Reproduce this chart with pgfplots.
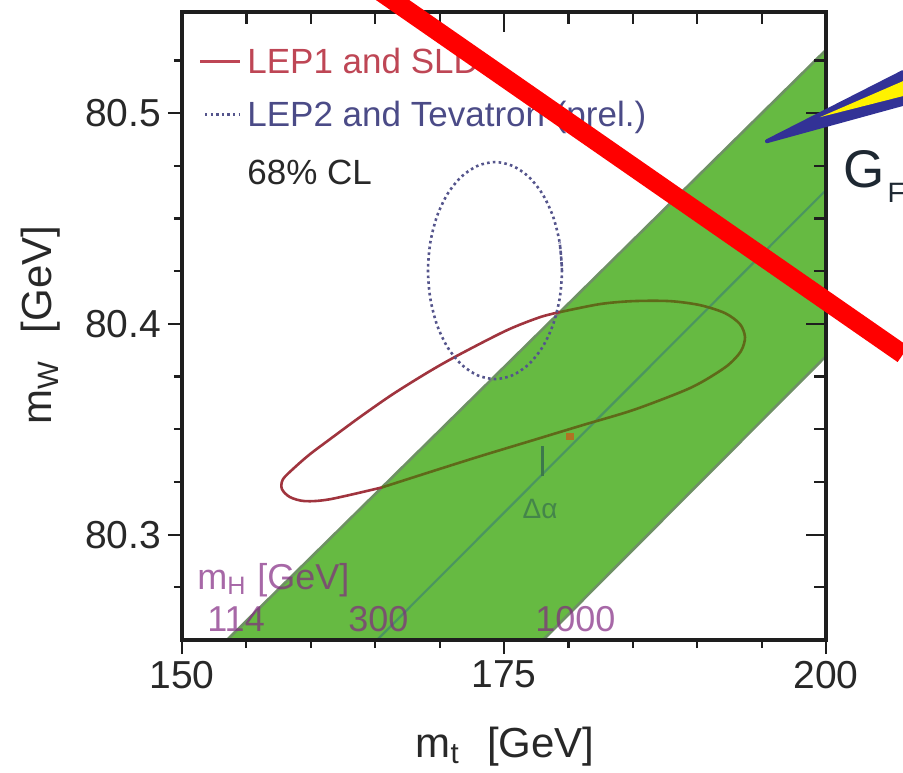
\documentclass[border=0pt]{standalone}
\usepackage{fontspec}
\setmainfont{Liberation Sans}
\usepackage{pgfplots}
\pgfplotsset{compat=1.18}
\definecolor{bandgreen}{RGB}{102,186,66}
\definecolor{bandedge}{RGB}{110,145,100}
\definecolor{mhline}{RGB}{75,150,95}
\definecolor{mhdark}{RGB}{60,120,76}
\definecolor{lepone}{RGB}{160,52,62}
\definecolor{leponetext}{RGB}{190,70,85}
\definecolor{oliveline}{RGB}{95,105,25}
\definecolor{leptwo}{RGB}{85,85,140}
\definecolor{leptwotext}{RGB}{75,75,135}
\definecolor{mhlab}{RGB}{130,40,130}
\definecolor{arrowblue}{RGB}{50,50,150}
\definecolor{gftext}{RGB}{30,40,50}
\definecolor{axisblack}{RGB}{30,30,30}
\definecolor{smpoint}{RGB}{175,115,35}
\definecolor{ticktext}{RGB}{40,40,40}
\begin{document}
\begin{tikzpicture}
\useasboundingbox (-91pt,-66pt) rectangle (360.5pt,320pt);
\begin{axis}[
  at={(0pt,0pt)}, anchor=south west,
  scale only axis, width=322pt, height=314pt,
  xmin=150, xmax=200, ymin=80.25, ymax=80.548,
  clip=false,
  axis line style={line width=1.6pt, axisblack},
  tick pos=left, tick align=outside,
  xtick={150,175,200}, xticklabels={150,175,200},
  ytick={80.3,80.4,80.5}, yticklabels={80.3,80.4,80.5},
  minor xtick={155,160,165,170,180,185,190,195},
  minor ytick={80.275,80.325,80.35,80.375,80.425,80.45,80.475,80.525},
  major tick length=7pt, minor tick length=4pt,
  tick style={line width=1.1pt, axisblack},
  tick label style={font=\fontsize{19.5}{22}\selectfont, text=ticktext},
  xlabel={m\textsubscript{t}\hspace{0.65em}[GeV]},
  ylabel={m\textsubscript{W}\hspace{0.65em}[GeV]},
  every axis x label/.style={at={(axis description cs:0.5016,-0.1863)}, anchor=base, font=\fontsize{21}{24}\selectfont, text=ticktext},
  every axis y label/.style={at={(axis description cs:-0.2019,0.5016)}, rotate=90, anchor=base, font=\fontsize{21}{24}\selectfont, text=ticktext},
]
% SM band (m_H = 114 ... 1000 GeV)
\addplot[draw=none, fill=bandgreen] coordinates {(153.49,80.25) (200,80.530) (200,80.3847) (178.03,80.25) (153.49,80.25)};
\addplot[bandedge, line width=1.3pt] coordinates {(153.49,80.25) (200,80.530)};
\addplot[bandedge, line width=1.3pt] coordinates {(178.03,80.25) (200,80.3847)};
\addplot[mhline, line width=1.1pt] coordinates {(165.14,80.25) (200,80.4635)};
% m_H labels
\node[anchor=base west, inner sep=0, text=mhlab, text opacity=0.7, font=\fontsize{18}{20}\selectfont] at (axis cs:151.16,80.2741) {m\textsubscript{H}\hspace{0.3em}[GeV]};
\node[anchor=base west, inner sep=0, text=mhlab, text opacity=0.7, font=\fontsize{18}{20}\selectfont] at (axis cs:151.94,80.2542) {114};
\node[anchor=base west, inner sep=0, text=mhlab, text opacity=0.7, font=\fontsize{18}{20}\selectfont] at (axis cs:162.89,80.2542) {300};
\node[anchor=base west, inner sep=0, text=mhlab, text opacity=0.7, font=\fontsize{18}{20}\selectfont] at (axis cs:177.41,80.2542) {1000};
% LEP1 and SLD contour (outside the band)
\addplot[lepone, line width=1.3pt, smooth] coordinates {
(165.52,80.3224) (161.49,80.3168) (159.55,80.3159) (158.39,80.3178) (157.76,80.3216)
(157.84,80.3263) (158.77,80.3320) (159.94,80.3382) (161.49,80.3453) (163.82,80.3558)
(166.38,80.3667) (169.25,80.3776) (171.58,80.3856) (175.23,80.3970) (177.80,80.4032)
(179.35,80.4056)};
% LEP1 and SLD contour (inside the band)
\addplot[oliveline, line width=1.3pt, smooth] coordinates {
(179.35,80.4056) (182.45,80.4094) (185.02,80.4108) (187.89,80.4108) (190.22,80.4089)
(192.16,80.4051) (193.32,80.3999) (193.71,80.3937) (193.40,80.3871) (192.39,80.3804)
(190.61,80.3733) (188.90,80.3681) (185.02,80.3591) (181.13,80.3520) (177.25,80.3448)
(173.14,80.3372) (169.25,80.3297) (165.52,80.3224)};
% LEP2 and Tevatron contour
\addplot[leptwo, line width=1.3pt, dash pattern=on 1.3pt off 1.6pt, smooth] coordinates {
(179.50,80.4253) (179.32,80.4386) (178.80,80.4511) (177.98,80.4617) (176.90,80.4699)
(175.65,80.4750) (174.30,80.4768) (172.95,80.4750) (171.70,80.4699) (170.62,80.4617)
(169.80,80.4511) (169.28,80.4386) (169.10,80.4253) (169.28,80.4120) (169.80,80.3995)
(170.62,80.3889) (171.70,80.3807) (172.95,80.3756) (174.30,80.3738) (175.65,80.3756)
(176.90,80.3807) (177.98,80.3889) (178.80,80.3995) (179.32,80.4120) (179.50,80.4253)
(179.32,80.4386)};
% Delta alpha
\addplot[mhdark, line width=1.2pt] coordinates {(178.0,80.342) (178.0,80.328)};
\node[text=mhdark, text opacity=0.8, font=\fontsize{14}{16}\selectfont] at (axis cs:177.8,80.312) {Δα};
\addplot[only marks, mark=square*, mark size=1.6pt, color=smpoint] coordinates {(180.12,80.3467)};
% legend
\addplot[leponetext, line width=1.5pt] coordinates {(151.40,80.5247) (154.50,80.5247)};
\node[anchor=base west, inner sep=0, text=leponetext, font=\fontsize{17.5}{20}\selectfont] at (axis cs:155.05,80.5187) {LEP1 and SLD};
\addplot[leptwo, line width=1.3pt, dash pattern=on 1.2pt off 1.6pt] coordinates {(151.79,80.4995) (154.50,80.4995)};
\node[anchor=base west, inner sep=0, text=leptwotext, font=\fontsize{17.5}{20}\selectfont] at (axis cs:155.05,80.4936) {LEP2 and Tevatron (prel.)};
\node[anchor=base west, inner sep=0, text=ticktext, font=\fontsize{17.5}{20}\selectfont] at (axis cs:155.05,80.4661) {68\% CL};
\end{axis}
\begin{axis}[
  at={(0pt,0pt)}, anchor=south west,
  scale only axis, width=322pt, height=314pt,
  xmin=150, xmax=200, ymin=80.25, ymax=80.548,
  clip=false,
  axis line style={line width=1.6pt, axisblack},
  tick pos=right, tick align=inside,
  xtick={150,175,200}, xticklabels={},
  ytick={80.3,80.4,80.5}, yticklabels={},
  minor xtick={155,160,165,170,180,185,190,195},
  minor ytick={80.275,80.325,80.35,80.375,80.425,80.45,80.475,80.525},
  major tick length=10pt, minor tick length=6pt,
  tick style={line width=1.1pt, axisblack},
]
% annotations drawn over the chart
\addplot[red, line width=9.5pt] coordinates {(165.0,80.5594) (205.98,80.3856)};
\addplot[draw=arrowblue, fill=arrowblue, line width=2pt, line join=round, line cap=round] coordinates {(195.42,80.4867) (205.98,80.5195) (205.98,80.5044) (195.42,80.4867)};
\addplot[draw=none, fill=yellow] coordinates {(199.53,80.4981) (205.98,80.5152) (205.98,80.5081) (199.53,80.4981)};
\node[anchor=base west, inner sep=0, text=gftext, overlay] at (axis cs:201.32,80.4649) {\fontsize{26.5}{30}\selectfont G\hspace{1.5pt}\raisebox{-7.5pt}{\fontsize{14}{16}\selectfont F}};
\end{axis}
\end{tikzpicture}
\end{document}
